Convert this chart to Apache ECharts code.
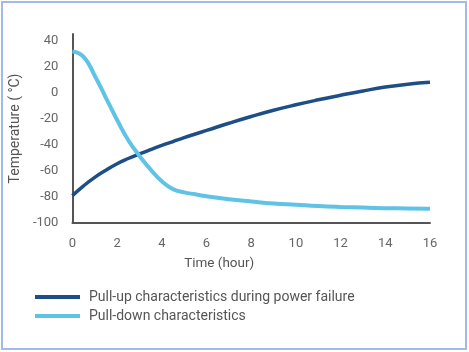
<!DOCTYPE html>
<html>
<head>
<meta charset="utf-8">
<script src="https://cdn.jsdelivr.net/npm/echarts@6/dist/echarts.min.js"></script>
<style>
  html, body { margin: 0; padding: 0; background: #fff; }
  #chart { width: 469px; height: 352px; }
</style>
</head>
<body>
<div id="chart"></div>
<script>
// time in hours
const hours = [0, 0.5, 1, 1.5, 2, 2.5, 3, 3.5, 4, 4.5, 5, 5.5, 6, 7, 8, 9, 10, 11, 12, 13, 14, 15, 16];
// temperature readings, °C
const pullUp = [-79, -71.5, -65, -59.5, -54.5, -50.5, -47, -43.7, -40.5, -37.5, -34.5, -31.7, -29, -23.5, -18.3, -13.5, -9.3, -5.5, -2, 1.3, 4.3, 6.5, 8];
const pullDown = [31.5, 27.5, 13, -4, -21, -36.5, -48.5, -59, -68, -74, -76.5, -78, -79.5, -81.8, -83.5, -85, -86, -87, -87.7, -88.2, -88.6, -88.8, -89];
const seriesNames = ['Pull-up characteristics during power failure', 'Pull-down characteristics'];

const pairs = vals => hours.map((h, i) => [h, vals[i]]);

var myChart = echarts.init(document.getElementById('chart'));
var font = 'Roboto, "Noto Sans", sans-serif';

var option = {
    backgroundColor: '#fff',
    animation: false,
    textStyle: { fontFamily: font },
    graphic: [{
        type: 'rect',
        shape: { x: 2, y: 2, width: 464, height: 347 },
        style: { fill: 'none', stroke: '#a3b9e6', lineWidth: 2 },
        silent: true
    }],
    grid: { left: 71, right: 39, top: 34, bottom: 129 },
    legend: {
        orient: 'vertical',
        left: 30,
        top: 285,
        itemWidth: 45,
        itemHeight: 4,
        itemGap: 5,
        icon: 'rect',
        textStyle: { fontSize: 14, color: '#555', fontFamily: font, padding: [0, 0, 0, 4] },
        data: seriesNames
    },
    xAxis: {
        type: 'value',
        min: 0,
        max: 16,
        interval: 2,
        name: 'Time (hour)',
        nameLocation: 'middle',
        nameGap: 34,
        nameTextStyle: { fontSize: 13.5, color: '#555', fontFamily: font, padding: [0, 64, 0, 0] },
        axisLine: { onZero: false, lineStyle: { color: '#555', width: 2 } },
        axisTick: { show: false },
        splitLine: { show: false },
        axisLabel: { fontSize: 13, color: '#666', margin: 14, fontFamily: font }
    },
    yAxis: {
        type: 'value',
        min: -100,
        max: 45,
        interval: 20,
        name: 'Temperature ( °C)',
        nameLocation: 'middle',
        nameGap: 46,
        nameTextStyle: { fontSize: 14, color: '#555', fontFamily: font },
        axisLine: { show: true, onZero: false, lineStyle: { color: '#555', width: 2 } },
        axisTick: { show: false },
        splitLine: { show: false },
        axisLabel: {
            fontSize: 13, color: '#666', margin: 14, fontFamily: font,
            formatter: v => (v > 40 ? '' : String(v))
        }
    },
    series: [
        {
            name: seriesNames[0],
            type: 'line',
            smooth: true,
            showSymbol: false,
            data: pairs(pullUp),
            itemStyle: { color: '#1d4f86' },
            lineStyle: { color: '#1d4f86', width: 3.5 }
        },
        {
            name: seriesNames[1],
            type: 'line',
            smooth: true,
            showSymbol: false,
            data: pairs(pullDown),
            itemStyle: { color: '#5ec3e4' },
            lineStyle: { color: '#5ec3e4', width: 4 }
        }
    ]
};

option && myChart.setOption(option);
</script>
</body>
</html>
